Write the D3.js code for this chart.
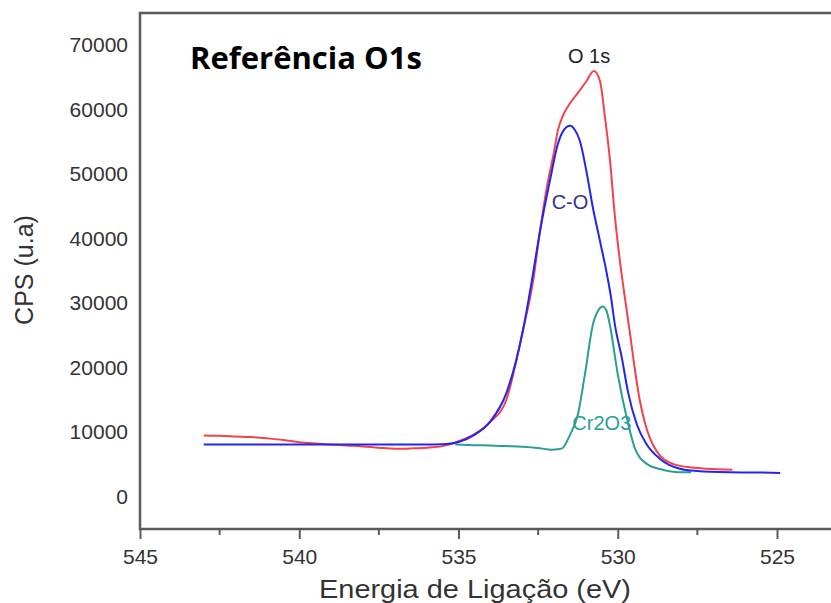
<!DOCTYPE html>
<meta charset="UTF-8">
<style>
    body { margin: 0; background: #fff; }
    .tick text { font-family: "Liberation Sans", Arial, sans-serif; fill: #333; }
    .curve { fill: none; stroke-width: 2px; }
</style>
<body>
<div id="chart"></div>
<script src="https://d3js.org/d3.v7.min.js"></script>
<script>
    // O 1s envelope (red)
    var o1sEnergy = [543.0, 542.5, 542.0, 541.5, 541.0, 540.5, 540.0, 539.5, 539.0, 538.5, 538.0, 537.5, 537.0, 536.5, 536.0, 535.5, 535.2, 535.0, 534.5, 534.0, 533.5, 533.0, 532.66, 532.44, 532.23, 532.0, 531.88, 531.7, 531.5, 531.3, 531.0, 530.75, 530.56, 530.4, 530.25, 530.09, 529.93, 529.78, 529.62, 529.47, 529.31, 529.15, 529.0, 528.77, 528.27, 527.8, 527.2, 526.4];
    var o1sCps = [9500, 9450, 9350, 9250, 9050, 8800, 8450, 8250, 8100, 7950, 7800, 7600, 7450, 7500, 7600, 7850, 8200, 8600, 9700, 11600, 15000, 25300, 33400, 41200, 47900, 53500, 56800, 59300, 61000, 62300, 64300, 66000, 64500, 58800, 52500, 43500, 36500, 31000, 25500, 20000, 15000, 11500, 9200, 7000, 5100, 4600, 4350, 4200];

    // C-O component (blue)
    var coEnergy = [543.0, 536.0, 535.5, 535.0, 534.5, 534.0, 533.48, 532.98, 532.7, 532.44, 532.13, 531.88, 531.7, 531.5, 531.35, 531.19, 530.97, 530.78, 530.56, 530.34, 530.22, 530.09, 529.87, 529.68, 529.4, 529.09, 528.68, 528.05, 527.5, 526.5, 525.5, 524.9];
    var coCps = [8100, 8100, 8150, 8500, 9600, 11700, 16300, 25700, 33400, 41200, 49000, 54700, 56800, 57500, 56900, 55200, 50100, 44800, 39700, 34500, 31200, 26700, 21500, 16300, 11200, 8100, 5900, 4350, 4000, 3800, 3750, 3700];

    // Cr2O3 component (teal)
    var crEnergy = [535.1, 534.5, 534.0, 533.5, 533.0, 532.5, 532.2, 532.04, 531.9, 531.75, 531.5, 531.25, 531.03, 530.78, 530.6, 530.47, 530.35, 530.25, 530.0, 529.71, 529.46, 529.09, 528.68, 528.2, 527.7];
    var crCps = [8100, 8000, 7950, 7850, 7750, 7550, 7350, 7300, 7350, 7500, 9600, 12800, 19000, 26700, 29000, 29500, 28800, 26700, 19000, 12100, 7500, 5100, 4300, 3850, 3780];

    var xTicks = [545, 540, 535, 530, 525];
    var xMinorTicks = [542.5, 537.5, 532.5, 527.5];
    var yTicks = [0, 10000, 20000, 30000, 40000, 50000, 60000, 70000];

    var width = 831, height = 603;
    var plotLeft = 140, plotTop = 13, plotBottom = 529, plotRight = 845;

    var svg = d3.select("#chart").append("svg")
            .attr("width", width)
            .attr("height", height);

    var x = d3.scaleLinear().domain([545, 525]).range([plotLeft, 777]);
    var y = d3.scaleLinear().domain([-5000, 75000]).range([plotBottom, plotTop]);

    // frame (left, top, bottom; right edge runs off the picture)
    svg.append("path")
            .attr("d", "M" + plotRight + "," + plotTop + "H" + plotLeft + "V" + plotBottom + "H" + plotRight)
            .attr("fill", "none")
            .attr("stroke", "#5a5a5a")
            .attr("stroke-width", 2.5);

    // x axis
    var xAxis = svg.append("g")
            .attr("transform", "translate(0," + plotBottom + ")")
            .call(d3.axisBottom(x).tickValues(xTicks).tickSize(10).tickPadding(10)
                    .tickFormat(d3.format("d")));
    xAxis.select(".domain").remove();
    xAxis.selectAll(".tick line").attr("stroke", "#5a5a5a").attr("stroke-width", 2);
    xAxis.selectAll(".tick text").style("font-size", "21px");

    svg.append("g")
            .attr("transform", "translate(0," + plotBottom + ")")
            .selectAll("line")
            .data(xMinorTicks)
            .enter().append("line")
            .attr("x1", function (d) { return x(d); })
            .attr("x2", function (d) { return x(d); })
            .attr("y1", 0)
            .attr("y2", 6)
            .attr("stroke", "#5a5a5a")
            .attr("stroke-width", 2);

    // y axis, labels only
    var yAxis = svg.append("g")
            .attr("transform", "translate(" + plotLeft + ",0)")
            .call(d3.axisLeft(y).tickValues(yTicks).tickSize(0).tickPadding(12)
                    .tickFormat(d3.format("d")));
    yAxis.select(".domain").remove();
    yAxis.selectAll(".tick text").style("font-size", "21px");

    // axis titles
    svg.append("text")
            .attr("x", 475)
            .attr("y", 598)
            .attr("text-anchor", "middle")
            .attr("textLength", 312)
            .attr("lengthAdjust", "spacingAndGlyphs")
            .style("font-family", "Liberation Sans, Arial, sans-serif")
            .style("font-size", "26px")
            .attr("fill", "#333")
            .text("Energia de Ligação (eV)");

    svg.append("text")
            .attr("transform", "translate(33,270) rotate(-90)")
            .attr("text-anchor", "middle")
            .style("font-family", "Liberation Sans, Arial, sans-serif")
            .style("font-size", "25px")
            .attr("fill", "#333")
            .text("CPS (u.a)");

    // curves
    var line = d3.line()
            .x(function (d) { return x(d[0]); })
            .y(function (d) { return y(d[1]); })
            .curve(d3.curveMonotoneX);

    function series(en, cps) {
        return en.map(function (e, i) { return [e, cps[i]]; });
    }

    svg.append("path").attr("class", "curve")
            .attr("stroke", "#2a9d94")
            .attr("d", line(series(crEnergy, crCps)));
    svg.append("path").attr("class", "curve")
            .attr("stroke", "#f2424c")
            .attr("d", line(series(o1sEnergy, o1sCps)));
    svg.append("path").attr("class", "curve")
            .attr("stroke", "#2424f0")
            .attr("d", line(series(coEnergy, coCps)));

    // labels
    svg.append("text")
            .attr("x", 190)
            .attr("y", 69)
            .style("font-family", "Open Sans, sans-serif")
            .style("font-weight", "bold")
            .style("font-size", "31px")
            .attr("fill", "#000")
            .text("Referência O1s");

    var notes = [
        {text: "O 1s", e: 530.9, v: 67300, color: "#222"},
        {text: "C-O", e: 531.5, v: 44600, color: "#33338a"},
        {text: "Cr2O3", e: 530.5, v: 10400, color: "#2a9d94"}
    ];
    svg.selectAll("text.note")
            .data(notes)
            .enter().append("text")
            .attr("class", "note")
            .attr("x", function (d) { return x(d.e); })
            .attr("y", function (d) { return y(d.v); })
            .attr("text-anchor", "middle")
            .style("font-family", "Liberation Sans, Arial, sans-serif")
            .style("font-size", "20px")
            .attr("fill", function (d) { return d.color; })
            .text(function (d) { return d.text; });
</script>
</body>
